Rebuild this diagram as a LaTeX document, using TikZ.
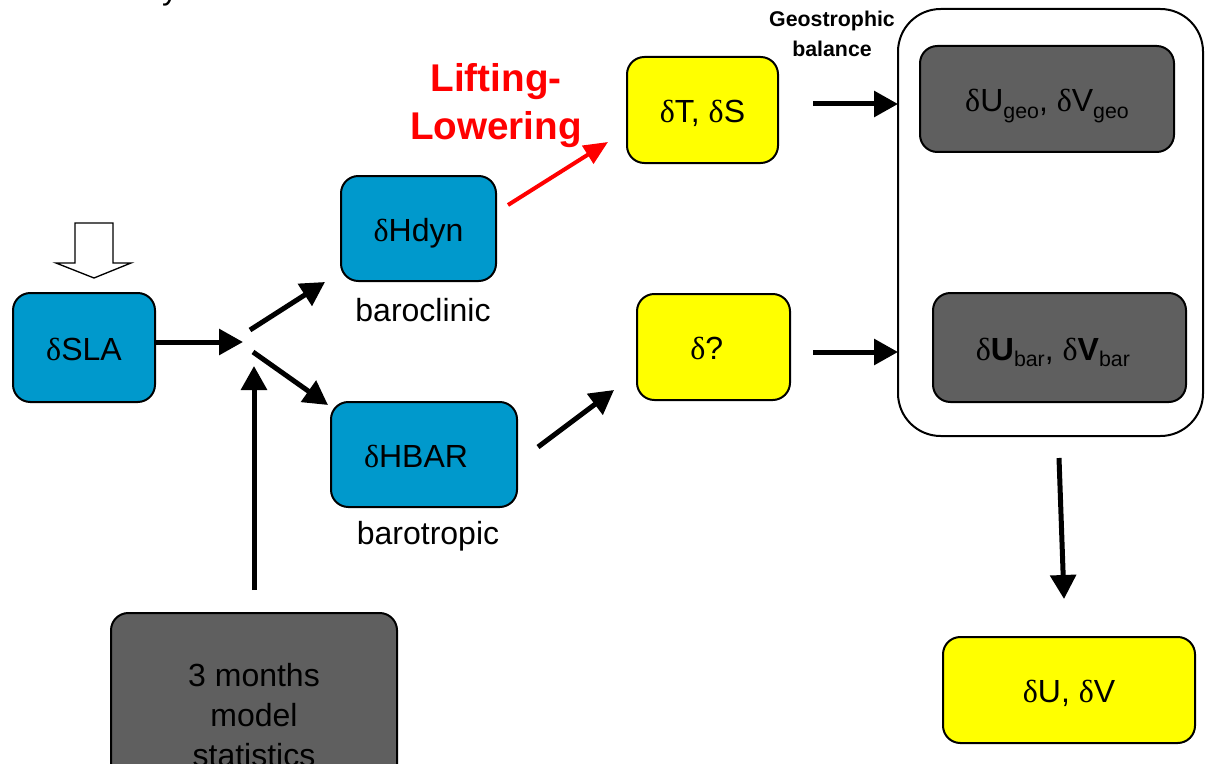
\documentclass[tikz,border=0pt]{standalone}
\usepackage{fontspec}
\setmainfont{Liberation Sans}
\newfontfamily\greekserif{Liberation Serif}
\newcommand{\dl}{{\greekserif δ}}
\newcommand{\sbs}[1]{\raisebox{-5pt}{\fontsize{16}{16}\selectfont #1}}
\usetikzlibrary{arrows.meta}

\definecolor{boxblue}{RGB}{0,153,204}
\definecolor{boxgray}{RGB}{95,95,95}
\definecolor{boxyellow}{RGB}{255,255,0}
\definecolor{liftred}{RGB}{255,0,0}

\tikzset{
  box/.style={draw=black, line width=1.5pt, rounded corners=13pt, inner sep=0pt,
              align=center, font=\fontsize{24}{30}\selectfont},
  sz/.style 2 args={minimum width=#1*0.75pt, minimum height=#2*0.75pt},
  oneline/.style={text height=18.75pt, text depth=0pt},
  bluebox/.style={box, oneline, fill=boxblue},
  graybox/.style={box, fill=boxgray},
  yellowbox/.style={box, oneline, fill=boxyellow},
  caption/.style={inner sep=0pt, font=\fontsize{24}{28}\selectfont},
  arr/.style={line width=3.75pt, -{Triangle[length=18pt,width=19pt]}},
  redarr/.style={line width=3pt, draw=liftred, -{Triangle[length=18pt,width=15.5pt]}},
}

\begin{document}
\begin{tikzpicture}[x=0.75pt, y=-0.75pt]
  \useasboundingbox (0,0) rectangle (1205,763);
  \clip (0,0) rectangle (1205,763);

  % trailing letter of the title line above
  \node[anchor=base, inner sep=0pt, font=\fontsize{24}{28}\selectfont] (title) at (170,0) {y};

  % hollow input arrow
  \draw[line width=1pt, fill=white]
    (75,223) -- (113,223) -- (113,263) -- (131,263) -- (94,278)
    -- (56,263) -- (75,263) -- cycle;

  % level boxes
  \node[bluebox, sz={142}{109}] (sla) at (84,347.5) {\dl SLA};
  \node[bluebox, sz={155}{105}] (hdyn) at (418.5,228.5) {\dl Hdyn};
  \node[bluebox, sz={186}{105}] (hbar) at (424,454.5) {\dl HBAR\hspace*{12pt}};
  \node[caption] (clinic) at (423,310) {baroclinic};
  \node[caption] (tropic) at (428,536) {barotropic};

  \node[yellowbox, sz={151}{106}] (ts) at (702.5,110) {\dl T, \dl S};
  \node[yellowbox, sz={153}{106}] (q) at (713.5,347) {\dl ?\hspace*{10pt}};

  % velocity group
  \draw[line width=1.5pt, rounded corners=32pt] (898,9) rectangle (1203,436);
  \node[graybox, oneline, sz={254}{106}] (ugeo) at (1047,99)
    {\dl U\sbs{geo}, \dl V\sbs{geo}};
  \node[graybox, oneline, sz={253}{109}] (ubar) at (1059.5,347.5)
    {\dl\textbf{U}\sbs{bar}, \dl\textbf{V}\sbs{bar}\hspace*{10pt}};

  \node[yellowbox, sz={252}{106}] (uv) at (1069,690) {\dl U, \dl V};

  \node[graybox, sz={286}{205}] (stats) at (254,715.5) {3 months\\model\\statistics};

  % annotations
  \node[inner sep=0pt, align=center, text=liftred,
        font=\bfseries\fontsize{29}{36}\selectfont] (lift) at (496,106) {Lifting-\\Lowering};
  \node[inner sep=0pt, align=center,
        font=\bfseries\fontsize{16}{22}\selectfont] (geo) at (832,34) {Geostrophic\\balance};

  % connector end points
  \coordinate (slaout) at (155,342);
  \coordinate (jin) at (243,342);
  \coordinate (jup) at (250,330);
  \coordinate (jupend) at (325,282);
  \coordinate (jdn) at (253,352);
  \coordinate (jdnend) at (328,405);
  \coordinate (statout) at (254,590);
  \coordinate (statend) at (254,366);
  \coordinate (hdynout) at (508,205);
  \coordinate (tsin) at (608,142);
  \coordinate (hbarout) at (538,447);
  \coordinate (qin) at (614,390);
  \coordinate (tsout) at (813,104);
  \coordinate (grpin1) at (898,104);
  \coordinate (qout) at (813,352);
  \coordinate (grpin2) at (898,352);
  \coordinate (grpout) at (1059,458);
  \coordinate (uvin) at (1064,599);

  % connectors
  \draw[arr] (slaout) -- (jin);
  \draw[arr] (jup) -- (jupend);
  \draw[arr] (jdn) -- (jdnend);
  \draw[arr] (statout) -- (statend);
  \draw[redarr] (hdynout) -- (tsin);
  \draw[arr] (hbarout) -- (qin);
  \draw[arr] (tsout) -- (grpin1);
  \draw[arr] (qout) -- (grpin2);
  \draw[arr] (grpout) -- (uvin);
\end{tikzpicture}
\end{document}
